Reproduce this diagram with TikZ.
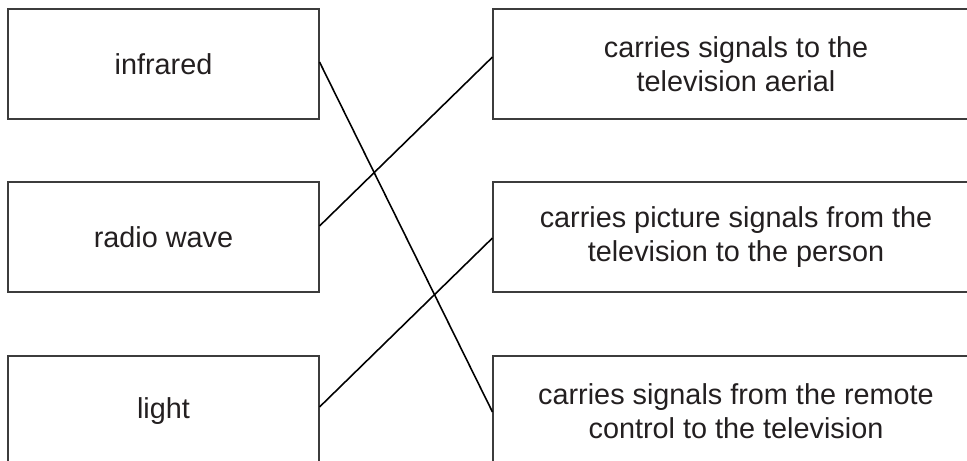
\documentclass[tikz,border=0pt]{standalone}
\usepackage{fontspec}
\setmainfont{Liberation Sans}
\usepackage{xcolor}
\definecolor{boxGrey}{RGB}{60, 60, 60}
\definecolor{textGrey}{RGB}{35, 31, 32}

\begin{document}
\begin{tikzpicture}[
    wavebox/.style={draw=boxGrey, line width=0.6pt, text=textGrey, minimum width=6.22cm, minimum height=2.2cm, font=\fontsize{16.4}{19.3}\selectfont},
    usebox/.style={draw=boxGrey, line width=0.6pt, text=textGrey, minimum width=9.72cm, minimum height=2.2cm, align=center, font=\fontsize{16.4}{19.3}\selectfont},
    link/.style={line width=0.9pt, black}
]
            \useasboundingbox (0,0) rectangle (19.34,-9.22);
            \clip (0,0) rectangle (19.34,-9.22);

            % Left column
            \node[wavebox] (infrared) at (3.27,-1.28) {infrared};
            \node[wavebox] (radio) at (3.27,-4.74) {radio wave};
            \node[wavebox] (light) at (3.27,-8.22) {light};

            % Right column
            \node[usebox] (aerial) at (14.72,-1.28) {carries signals to the\\television aerial};
            \node[usebox] (person) at (14.72,-4.74) {carries picture signals from the\\television to the person};
            \node[usebox] (remote) at (14.72,-8.22) {carries signals from the remote\\control to the television};

            % Matching lines
            \draw[link] ([yshift=0.04cm]infrared.east) -- ([yshift=-0.02cm]remote.west);
            \draw[link] ([yshift=0.22cm]radio.east) -- ([yshift=0.14cm]aerial.west);
            \draw[link] ([yshift=0.08cm]light.east) -- ([yshift=-0.02cm]person.west);
        \end{tikzpicture}
\end{document}
